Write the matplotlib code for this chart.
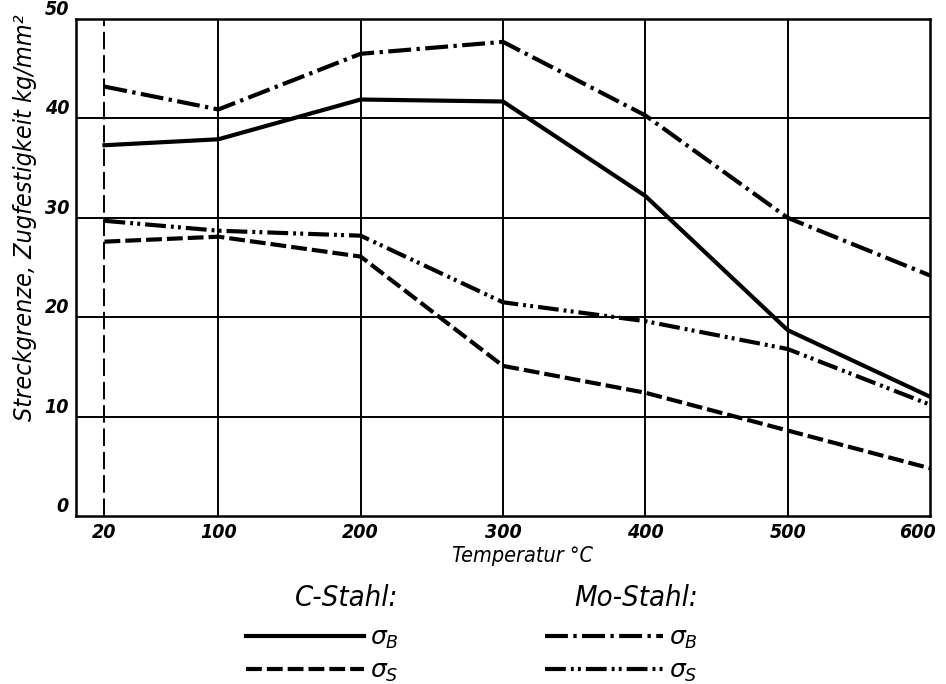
import matplotlib
matplotlib.use("Agg")
import matplotlib.pyplot as plt
from matplotlib.lines import Line2D
from matplotlib.font_manager import FontProperties
import matplotlib.transforms as mtransforms

# ---- data ----
temps = [20, 100, 200, 300, 400, 500, 600]
c_sigma_b = [37.3, 37.9, 41.9, 41.7, 32.2, 18.7, 12.0]
c_sigma_s = [27.6, 28.1, 26.1, 15.1, 12.4, 8.6, 4.8]
mo_sigma_b = [43.2, 40.9, 46.5, 47.7, 40.3, 30.0, 24.2]
mo_sigma_s = [29.7, 28.7, 28.2, 21.5, 19.6, 16.8, 11.2]

xticks = [20, 100, 200, 300, 400, 500, 600]
yticks = [0, 10, 20, 30, 40, 50]
xlabel = "Temperatur °C"
ylabel = "Streckgrenze, Zugfestigkeit kg/mm²"

FONT = dict(family="DejaVu Sans", style="oblique", stretch="condensed")

fig = plt.figure(figsize=(9.46, 6.84), dpi=100)
ax = fig.add_axes([76/946, 1-516/684, (930-76)/946, (516-19)/684])
ax.set_xlim(0, 600)
ax.set_ylim(0, 50)

# grid
for x in [100, 200, 300, 400, 500]:
    ax.axvline(x, color="black", lw=1.4, zorder=1)
for y in [10, 20, 30, 40]:
    ax.axhline(y, color="black", lw=1.4, zorder=1)
ax.axvline(20, color="black", lw=1.4, dashes=(9, 3), zorder=1)

lw = 3.0
DASH_CS = (3.8, 1.2)
DASH_MB = (5.5, 1.3, 0.8, 1.3)
DASH_MS = (5.0, 1.2, 0.7, 1.0, 0.7, 1.2)
ax.plot(temps, c_sigma_b, color="black", lw=lw, zorder=3)
ax.plot(temps, c_sigma_s, color="black", lw=lw, dashes=DASH_CS, zorder=3)
ax.plot(temps, mo_sigma_b, color="black", lw=lw, dashes=DASH_MB, zorder=3)
ax.plot(temps, mo_sigma_s, color="black", lw=lw, dashes=DASH_MS, zorder=3)

for s in ax.spines.values():
    s.set_linewidth(1.8)

ax.set_xticks(xticks)
ax.set_xticklabels([str(t) for t in xticks], fontsize=14, weight="bold", **FONT)
ax.set_yticks(yticks)
ax.set_yticklabels([str(t) for t in yticks], fontsize=14, weight="bold", **FONT)
ax.tick_params(length=0, pad=5)
for lab in ax.get_yticklabels():
    lab.set_verticalalignment("bottom")
last = ax.get_xticklabels()[-1]
last.set_horizontalalignment("right")
last.set_transform(last.get_transform() + mtransforms.ScaledTranslation(6/100, 0, fig.dpi_scale_trans))

fig.text(522/946, 1-556/684, xlabel, ha="center", va="center", fontsize=15.5, **FONT)
fig.text(25/946, 1-218/684, ylabel, ha="center", va="center", rotation=90, fontsize=18, **FONT)

# legends
h_cb = Line2D([], [], color="black", lw=lw)
h_cs = Line2D([], [], color="black", lw=lw, dashes=DASH_CS)
h_mb = Line2D([], [], color="black", lw=lw, dashes=DASH_MB)
h_ms = Line2D([], [], color="black", lw=lw, dashes=DASH_MS)

fp = FontProperties(size=21, **FONT)
common = dict(title_fontproperties=fp, prop=FontProperties(size=18),
              frameon=False, handlelength=4.7, handletextpad=0.25, labelspacing=0.3,
              loc="upper left", borderaxespad=0, borderpad=0)
lg1 = fig.legend(handles=[h_cb, h_cs], labels=[r"$\sigma_B$", r"$\sigma_S$"],
                 title="C-Stahl:", bbox_to_anchor=(246/946, 1-584/684), **common)
lg1._legend_box.align = "right"
lg1._legend_box.sep = 10
lg2 = fig.legend(handles=[h_mb, h_ms], labels=[r"$\sigma_B$", r"$\sigma_S$"],
                 title="Mo-Stahl:", bbox_to_anchor=(545/946, 1-584/684), **common)
lg2._legend_box.align = "right"
lg2._legend_box.sep = 10

fig.savefig("out.png", dpi=100)
